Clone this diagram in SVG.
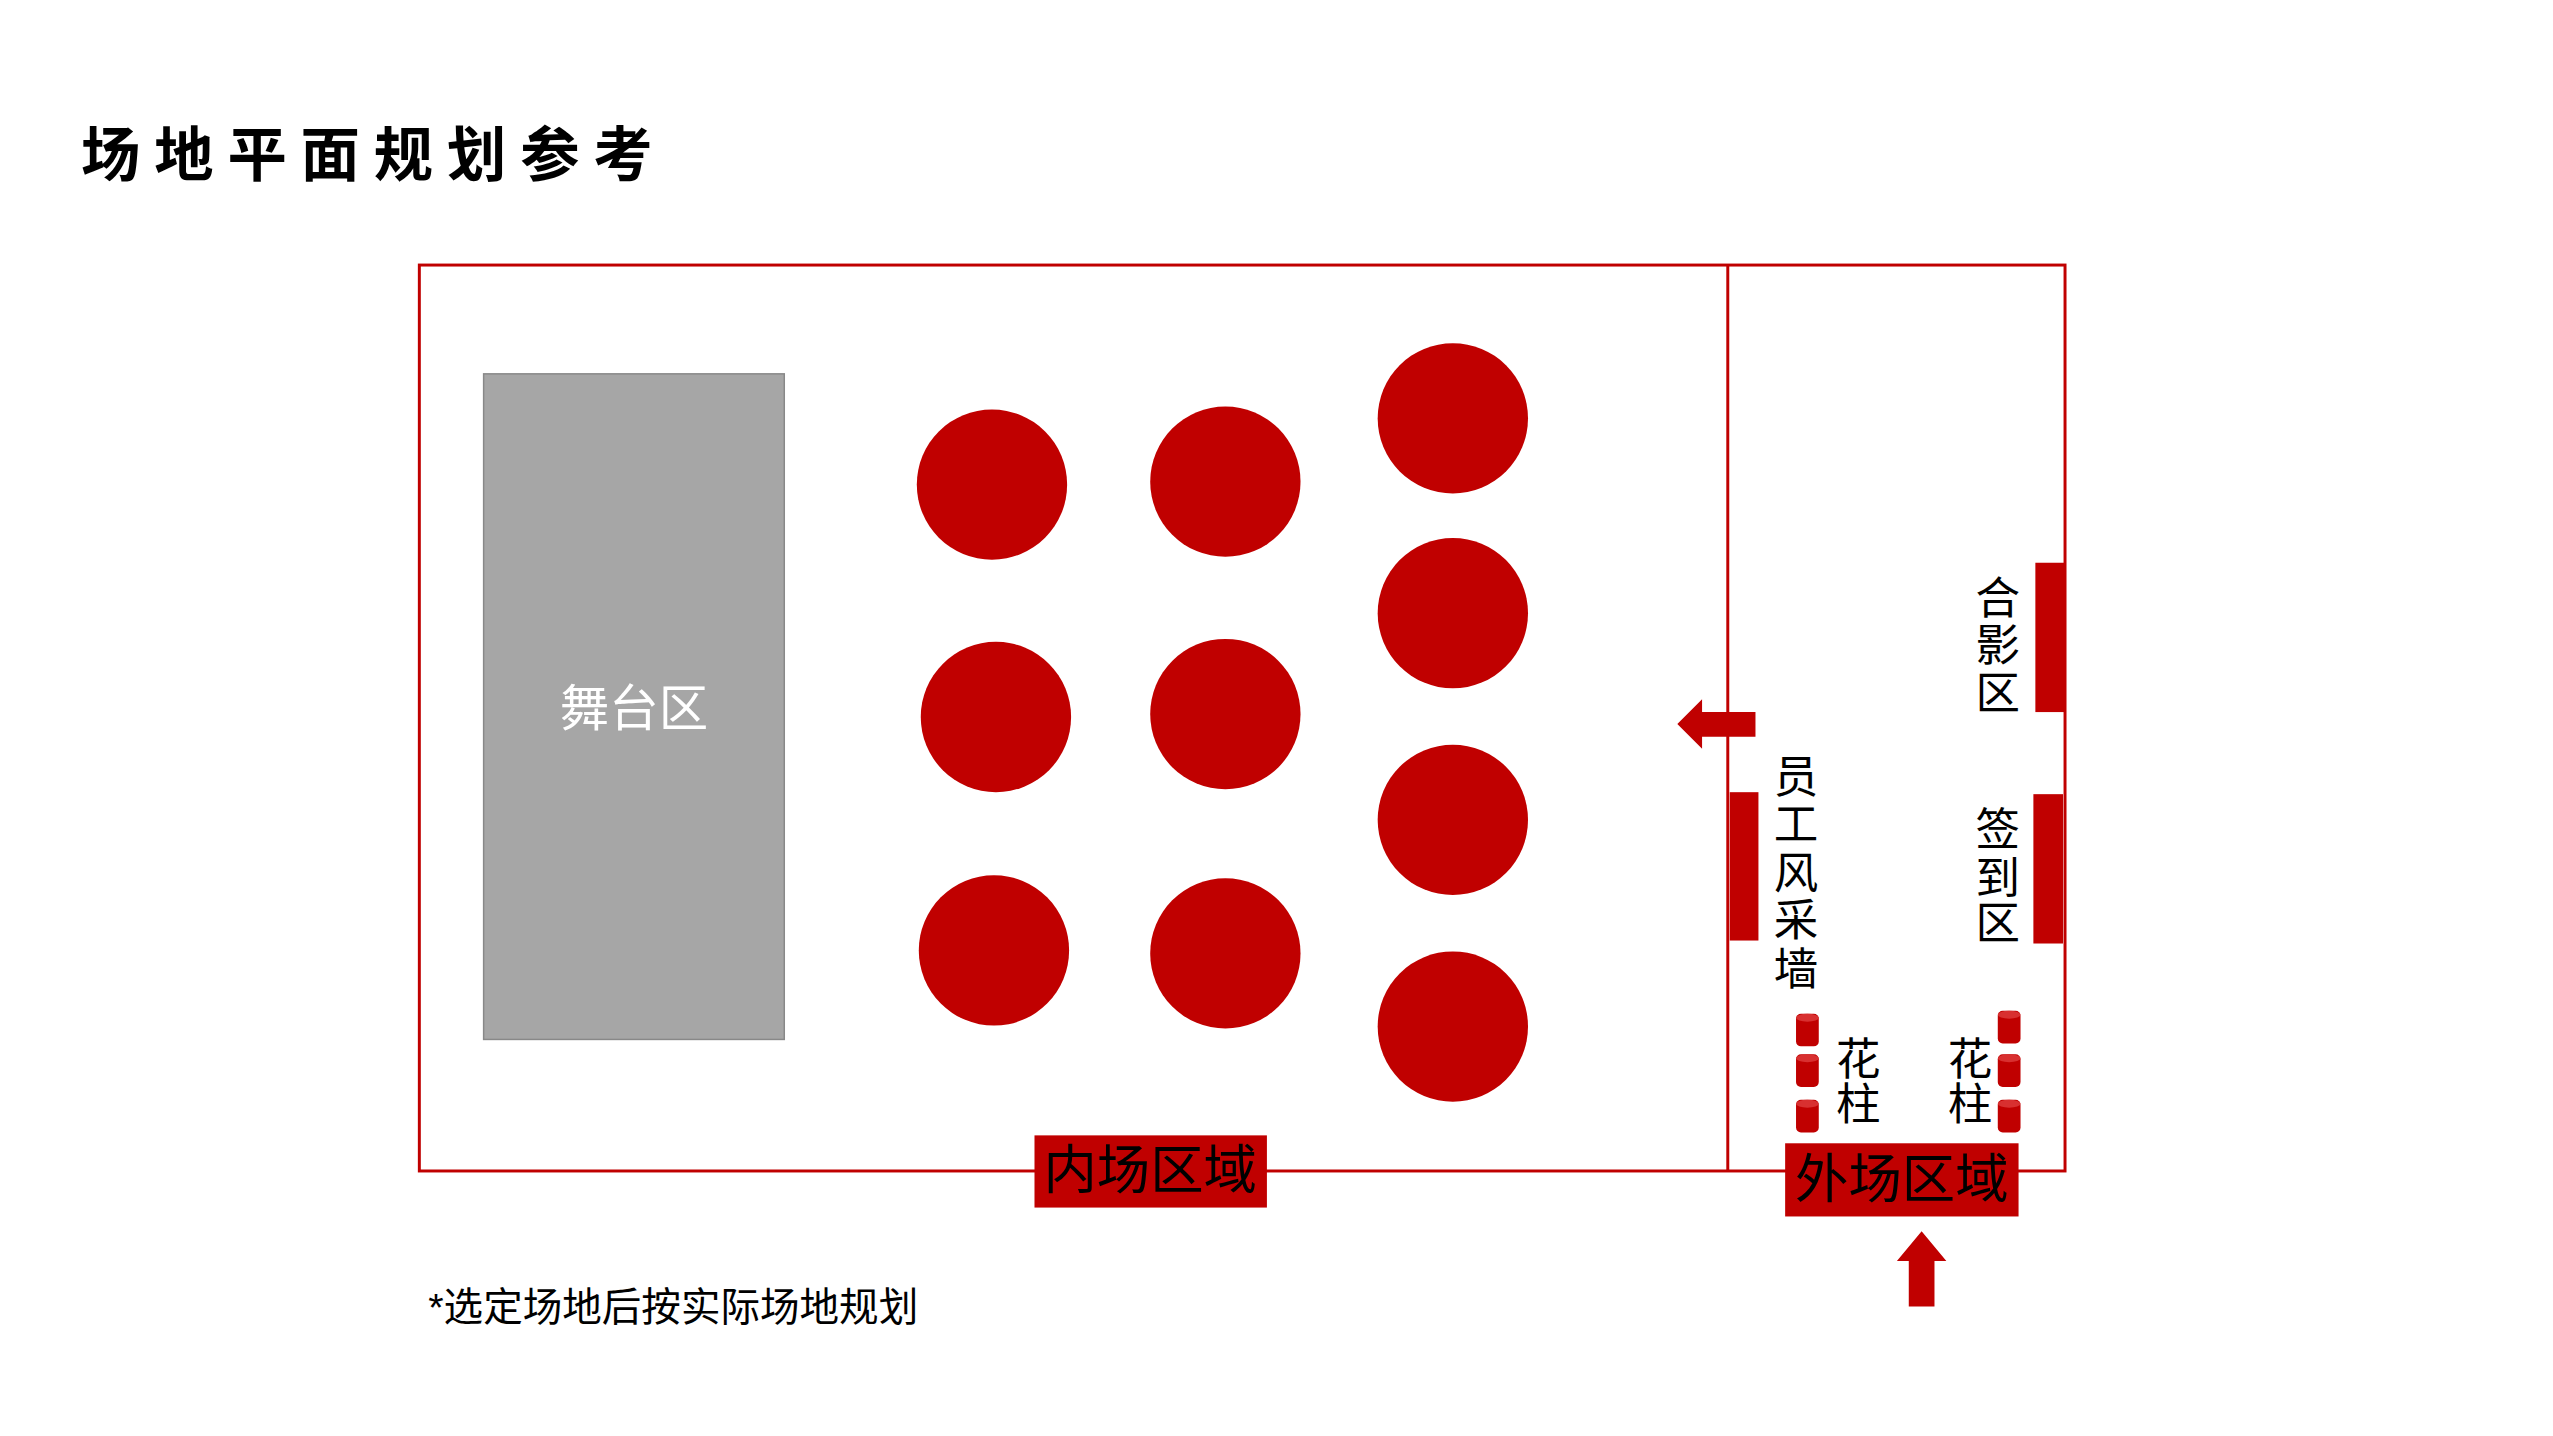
<svg xmlns="http://www.w3.org/2000/svg" width="2553" height="1436" viewBox="0 0 2553 1436">
<style>
text{font-family:"Liberation Sans","Noto Sans CJK SC",sans-serif;}
.red{fill:#C00000;}
.v{font-size:45px;fill:#000;text-anchor:middle;dominant-baseline:central;}
.lab{font-size:54px;fill:#000;text-anchor:middle;dominant-baseline:central;}
</style>
<defs>
<g id="pillar"><rect x="0" y="0" width="23" height="33" rx="5" class="red"/><ellipse cx="11.5" cy="4" rx="11.5" ry="4" fill="#d83030"/></g>
</defs>
<rect width="2553" height="1436" fill="#fff"/>
<g transform="scale(0.989)">
<text x="82" y="178" font-size="60" font-weight="bold" letter-spacing="14" fill="#000">场地平面规划参考</text>
<g id="frame" fill="none" stroke="#C00000" stroke-width="3">
<rect x="424" y="268" width="1664" height="916"/>
<line x1="1747" y1="268" x2="1747" y2="1184"/>
</g>
<g id="stage"><rect x="489" y="378" width="304" height="673" fill="#A6A6A6" stroke="#888" stroke-width="1.5"/>
<text x="641" y="716" font-size="50" fill="#fff" text-anchor="middle" dominant-baseline="central">舞台区</text></g>
<g id="tables" class="red">
<circle cx="1003" cy="490" r="76"/><circle cx="1239" cy="487" r="76"/><circle cx="1469" cy="423" r="76"/>
<circle cx="1007" cy="725" r="76"/><circle cx="1239" cy="722" r="76"/><circle cx="1469" cy="620" r="76"/>
<circle cx="1005" cy="961" r="76"/><circle cx="1239" cy="964" r="76"/><circle cx="1469" cy="829" r="76"/>
<circle cx="1469" cy="1038" r="76"/>
</g>
<g id="inner-label"><rect x="1046" y="1148" width="235" height="73" class="red"/><text x="1163" y="1184" class="lab">内场区域</text></g>
<g id="outer-label"><rect x="1805" y="1156" width="236" height="74" class="red"/><text x="1923" y="1193" class="lab">外场区域</text></g>
<g id="connectors" class="red">
<polygon points="1930,1321 1956,1321 1956,1275 1968,1275 1943,1245 1918,1275 1930,1275"/>
<polygon points="1775,720 1775,745 1721,745 1721,757 1696,732 1721,707 1721,720"/>
</g>
<g id="staff-wall"><rect x="1749" y="801" width="29" height="150" class="red"/>
<text class="v" x="1816" y="786">员</text><text class="v" x="1816" y="834">工</text><text class="v" x="1816" y="883">风</text><text class="v" x="1816" y="931">采</text><text class="v" x="1816" y="980">墙</text></g>
<g id="photo"><rect x="2058" y="569" width="30" height="151" class="red"/>
<text class="v" x="2020" y="605">合</text><text class="v" x="2020" y="653">影</text><text class="v" x="2020" y="701">区</text></g>
<g id="signin"><rect x="2056" y="803" width="30" height="151" class="red"/>
<text class="v" x="2020" y="839">签</text><text class="v" x="2020" y="888">到</text><text class="v" x="2020" y="934">区</text></g>
<g id="pillars-left"><use href="#pillar" x="1816" y="1025"/><use href="#pillar" x="1816" y="1066"/><use href="#pillar" x="1816" y="1112"/>
<text class="v" x="1879" y="1071">花</text><text class="v" x="1879" y="1117">柱</text></g>
<g id="pillars-right"><use href="#pillar" x="2020" y="1022"/><use href="#pillar" x="2020" y="1066"/><use href="#pillar" x="2020" y="1112"/>
<text class="v" x="1992" y="1071">花</text><text class="v" x="1992" y="1117">柱</text></g>
<text x="433" y="1336" font-size="40" fill="#000">*选定场地后按实际场地规划</text>
</g>
</svg>
